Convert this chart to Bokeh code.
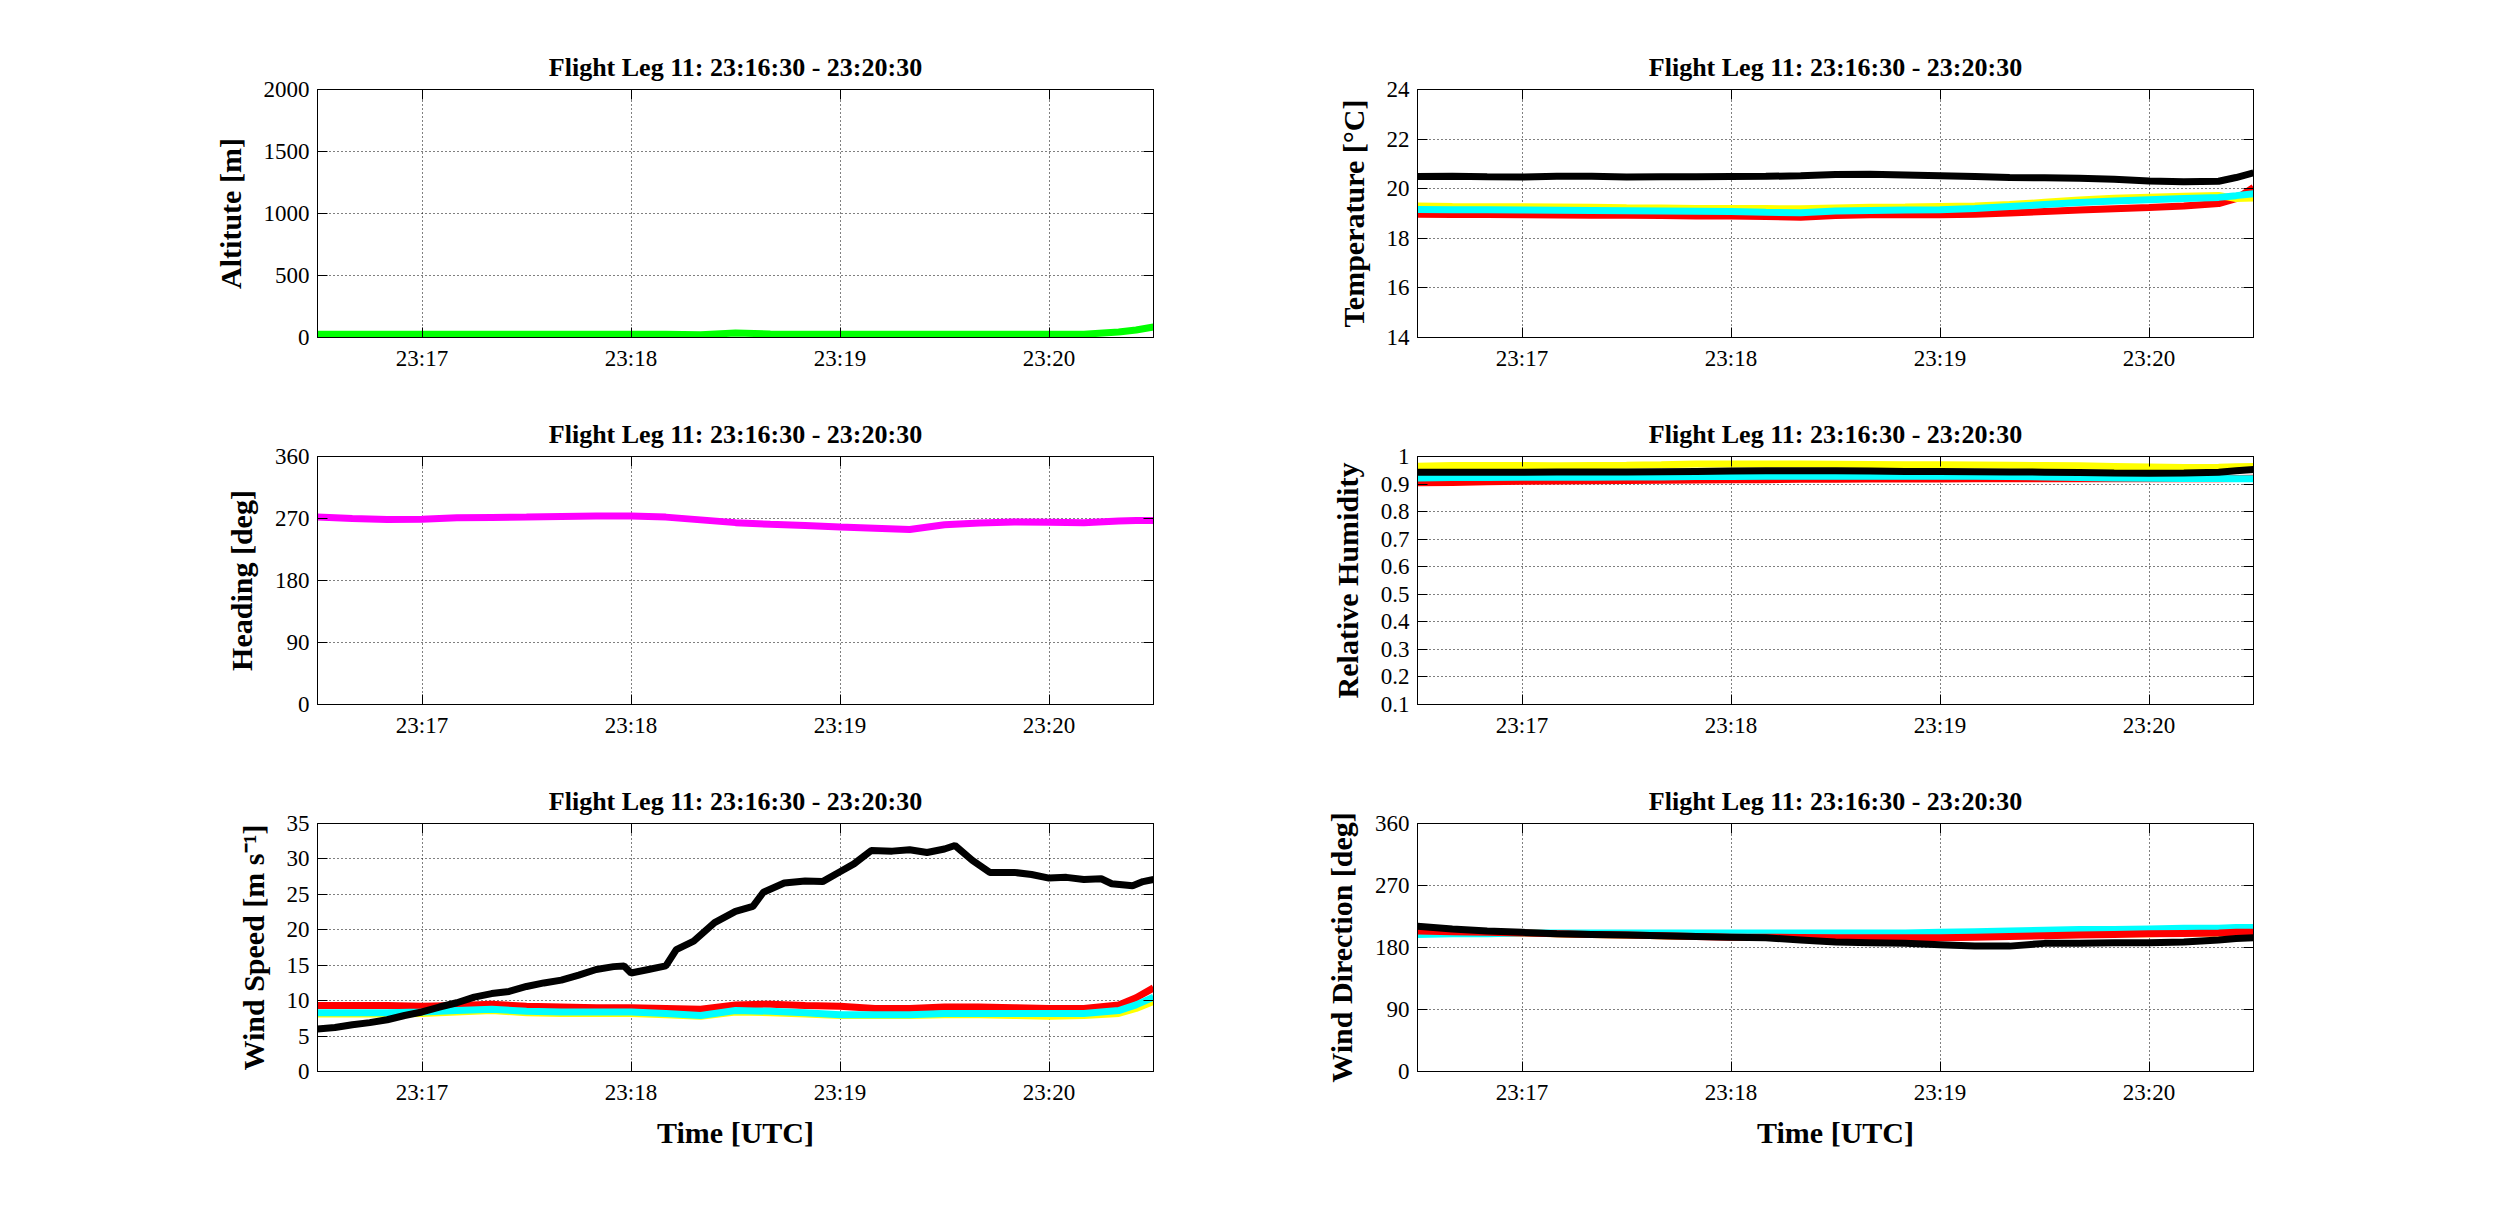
from datetime import datetime, timedelta
from bokeh.plotting import figure
from bokeh.models import (Range1d, FixedTicker, DatetimeTickFormatter, DatetimeAxis,
                          LinearAxis, NumeralTickFormatter, CustomLabelingPolicy)
from bokeh.layouts import column, row
from bokeh.embed import file_html
from bokeh.resources import INLINE

FONT = "Liberation Serif"
TITLE = "Flight Leg 11: 23:16:30 - 23:20:30"

leg_start = datetime(2000, 1, 1, 23, 16, 30)
leg_end = datetime(2000, 1, 1, 23, 20, 30)
time_ticks = [datetime(2000, 1, 1, 23, m) for m in (17, 18, 19, 20)]

# sample times, seconds after 23:16:30
t_main = [0, 10, 20, 30, 40, 50, 60, 70, 80, 90, 100, 110, 120, 130, 140, 150,
          160, 170, 180, 190, 200, 210, 220, 230, 235, 240]
t_ws_black = [0, 5, 10, 15, 20, 25, 30, 35, 40, 45, 50, 55, 60, 65, 70, 75, 80, 85,
              88, 90, 95, 100, 103, 108, 114, 120, 125, 128, 134, 140, 145, 150, 154,
              159, 165, 170, 175, 180, 183, 188, 193, 200, 205, 210, 215, 220, 225,
              228, 234, 237, 240]

# altitude [m]
altitude = [27, 27, 27, 27, 27, 27, 27, 27, 27, 27, 26, 22, 36, 28, 27, 27, 27, 27,
            27, 27, 27, 27, 27, 45, 60, 85]
# heading [deg]
heading = [272, 270, 268.5, 269, 271, 271.5, 272, 273, 273.5, 273.5, 272, 268, 264,
           261.5, 260, 257.5, 256, 254, 261, 263.5, 265, 264.5, 264, 266.5, 267, 267]

# wind speed [m/s]
ws_black = [6.0, 6.2, 6.6, 6.9, 7.3, 7.9, 8.4, 9.1, 9.7, 10.5, 11.0, 11.3, 12.0, 12.5,
            12.9, 13.6, 14.4, 14.8, 14.9, 13.9, 14.4, 14.9, 17.2, 18.4, 21.0, 22.6,
            23.3, 25.3, 26.6, 26.9, 26.8, 28.2, 29.3, 31.2, 31.1, 31.3, 30.9, 31.4,
            31.9, 29.8, 28.1, 28.1, 27.8, 27.3, 27.4, 27.1, 27.2, 26.5, 26.2, 26.8, 27.1]
ws_red = [9.3, 9.3, 9.3, 9.2, 9.3, 9.5, 9.2, 9.1, 9.0, 9.0, 8.9, 8.8, 9.4, 9.5, 9.3,
          9.2, 8.9, 8.9, 9.1, 9.1, 9.0, 8.9, 8.9, 9.4, 10.4, 11.8]
ws_yellow = [8.1, 8.1, 8.1, 8.2, 8.4, 8.6, 8.3, 8.2, 8.2, 8.2, 8.0, 7.8, 8.4, 8.3, 8.1,
             7.9, 7.9, 7.9, 8.0, 8.0, 7.9, 7.8, 7.9, 8.2, 8.9, 9.9]
ws_cyan = [8.3, 8.3, 8.3, 8.4, 8.6, 8.8, 8.5, 8.4, 8.4, 8.4, 8.2, 7.9, 8.6, 8.5, 8.3,
           8.0, 8.0, 8.0, 8.2, 8.2, 8.2, 8.2, 8.2, 8.6, 9.4, 10.5]

# temperature [C]
temp_black = [20.49, 20.5, 20.48, 20.47, 20.5, 20.5, 20.47, 20.48, 20.48, 20.49, 20.5,
              20.52, 20.57, 20.58, 20.55, 20.52, 20.49, 20.45, 20.44, 20.42, 20.38,
              20.31, 20.28, 20.3, 20.45, 20.64]
temp_red = [18.97, 18.96, 18.96, 18.95, 18.94, 18.93, 18.93, 18.92, 18.9, 18.9, 18.88,
            18.85, 18.92, 18.95, 18.95, 18.95, 18.97, 19.02, 19.08, 19.14, 19.19,
            19.24, 19.3, 19.4, 19.6, 20.05]
temp_yellow = [19.3, 19.28, 19.27, 19.27, 19.26, 19.25, 19.23, 19.22, 19.2, 19.2, 19.2,
               19.19, 19.22, 19.25, 19.26, 19.28, 19.3, 19.36, 19.45, 19.54, 19.62,
               19.66, 19.7, 19.73, 19.6, 19.62]
temp_cyan = [19.16, 19.15, 19.15, 19.14, 19.13, 19.12, 19.11, 19.1, 19.09, 19.08, 19.05,
             19.03, 19.1, 19.12, 19.14, 19.15, 19.2, 19.28, 19.36, 19.44, 19.5, 19.55,
             19.6, 19.65, 19.72, 19.8]

# relative humidity
rh_black = [0.943, 0.943, 0.943, 0.943, 0.944, 0.944, 0.944, 0.945, 0.946, 0.947, 0.948,
            0.948, 0.948, 0.947, 0.946, 0.946, 0.945, 0.944, 0.943, 0.942, 0.940, 0.939,
            0.940, 0.943, 0.948, 0.953]
rh_red = [0.905, 0.906, 0.908, 0.910, 0.911, 0.912, 0.913, 0.914, 0.915, 0.916, 0.916,
          0.917, 0.917, 0.918, 0.918, 0.918, 0.919, 0.919, 0.919, 0.919, 0.919, 0.919,
          0.919, 0.919, 0.920, 0.921]
rh_yellow = [0.965, 0.967, 0.967, 0.967, 0.966, 0.967, 0.968, 0.970, 0.973, 0.973, 0.973,
             0.973, 0.972, 0.971, 0.970, 0.970, 0.969, 0.968, 0.967, 0.966, 0.964, 0.962,
             0.960, 0.961, 0.963, 0.964]
rh_cyan = [0.922, 0.924, 0.924, 0.925, 0.925, 0.925, 0.926, 0.926, 0.927, 0.927, 0.928,
           0.928, 0.928, 0.928, 0.928, 0.928, 0.928, 0.927, 0.926, 0.924, 0.922, 0.921,
           0.920, 0.920, 0.919, 0.919]

# wind direction [deg]
wd_black = [211, 207, 204, 202, 200, 199, 198, 197, 196, 195, 194, 191, 188, 187, 186,
            184, 182, 182, 186, 186, 187, 187, 188, 191, 193, 194]
wd_red = [204, 203, 202, 201, 200, 199, 198, 197, 196, 195, 195, 194.5, 194, 194, 194,
          194, 195, 196, 197, 198, 199, 200, 200.5, 201, 202, 202]
wd_yellow = [204, 203, 202, 201, 200, 199, 198, 197, 196, 196, 195, 195, 195, 195, 195,
             195, 196, 197, 198, 199, 200, 200, 201, 201, 202, 202]
wd_cyan = [199, 200, 200, 201, 201, 201, 201, 201, 201, 201, 201, 201, 201, 201, 201,
           202, 203, 204, 205, 206, 206, 207, 208, 208, 209, 209]

alt_ticks = [0, 500, 1000, 1500, 2000]
hdg_ticks = [0, 90, 180, 270, 360]
ws_ticks = [0, 5, 10, 15, 20, 25, 30, 35]
temp_ticks = [14, 16, 18, 20, 22, 24]
rh_ticks = [0.1, 0.2, 0.3, 0.4, 0.5, 0.6, 0.7, 0.8, 0.9, 1.0]
wd_ticks = [0, 90, 180, 270, 360]


def times(secs):
    return [leg_start + timedelta(seconds=s) for s in secs]


def ms(dt):
    return (dt - datetime(1970, 1, 1)).total_seconds() * 1000.0


fmt = DatetimeTickFormatter(seconds="%H:%M", minsec="%H:%M", minutes="%H:%M",
                            hourmin="%H:%M", hours="%H:%M")

# top/right axes only carry the inward tick marks, no labels
no_labels = CustomLabelingPolicy(code="""
for (const i of indices) { indices.unset(i) }
return indices
""")


def style_axis(ax, ticker, labels=True):
    ax.ticker = ticker
    ax.major_tick_in = 10
    ax.major_tick_out = 0
    ax.minor_tick_line_color = None
    ax.axis_line_color = "black"
    ax.major_tick_line_color = "black"
    ax.major_label_text_font = FONT
    ax.major_label_text_color = "black"
    if labels:
        ax.major_label_text_font_size = "23px"
        ax.major_label_standoff = 8
    else:
        ax.major_label_text_font_size = "1px"
        ax.major_label_standoff = 0
        ax.major_label_policy = no_labels


def make_fig(ylabel, ylo, yhi, yticks, left, right, top, bottom, height, xlabel=None):
    p = figure(width=1242, height=height, x_axis_type="datetime",
               x_range=Range1d(leg_start, leg_end), y_range=Range1d(ylo, yhi),
               output_backend="svg", toolbar_location=None, tools="",
               min_border_left=left, min_border_right=right,
               min_border_top=top, min_border_bottom=bottom)
    p.title.text = TITLE
    p.title.align = "center"
    p.title.text_font = FONT
    p.title.text_font_size = "26px"
    p.title.text_font_style = "bold"
    p.title.text_color = "black"
    p.title.standoff = 8
    p.outline_line_color = "black"
    p.outline_line_alpha = 1

    xt = FixedTicker(ticks=[ms(t) for t in time_ticks])
    yt = FixedTicker(ticks=yticks)

    xa = p.below[0]
    style_axis(xa, xt)
    xa.formatter = fmt
    ya = p.left[0]
    style_axis(ya, yt)
    ya.formatter = NumeralTickFormatter(format="0.[0]")
    ya.axis_label = ylabel
    ya.axis_label_text_font = FONT
    ya.axis_label_text_font_size = "30px"
    ya.axis_label_text_font_style = "bold"
    ya.axis_label_text_color = "black"
    ya.axis_label_standoff = 14
    if xlabel:
        xa.axis_label = xlabel
        xa.axis_label_text_font = FONT
        xa.axis_label_text_font_size = "30px"
        xa.axis_label_text_font_style = "bold"
        xa.axis_label_text_color = "black"
        xa.axis_label_standoff = 8

    top_ax = DatetimeAxis(formatter=fmt)
    style_axis(top_ax, xt, labels=False)
    p.add_layout(top_ax, "above")
    right_ax = LinearAxis()
    style_axis(right_ax, yt, labels=False)
    p.add_layout(right_ax, "right")

    for g in (p.xgrid, p.ygrid):
        g.grid_line_color = "black"
        g.grid_line_dash = "1 3"
        g.grid_line_width = 1
    p.xgrid.ticker = xt
    p.ygrid.ticker = yt
    return p


LW = 7
# left column
p1 = make_fig("Altitute [m]", 0, 2000, alt_ticks, 317, 89, 89, 75, 412)
p1.line(times(t_main), altitude, color="#00ff00", line_width=LW)

p2 = make_fig("Heading [deg]", 0, 360, hdg_ticks, 317, 89, 44, 75, 367)
p2.line(times(t_main), heading, color="#ff00ff", line_width=LW)

p3 = make_fig("Wind Speed [m s\u207b\u00b9]", 0, 35, ws_ticks, 317, 89, 44, 128, 420,
              xlabel="Time [UTC]")
p3.line(times(t_main), ws_red, color="#ff0000", line_width=LW)
p3.line(times(t_main), ws_yellow, color="#ffff00", line_width=LW)
p3.line(times(t_main), ws_cyan, color="#00ffff", line_width=LW)
p3.line(times(t_ws_black), ws_black, color="black", line_width=LW)

# right column
p4 = make_fig("Temperature [\u00b0C]", 14, 24, temp_ticks, 175, 231, 89, 75, 412)
p4.line(times(t_main), temp_red, color="#ff0000", line_width=LW)
p4.line(times(t_main), temp_yellow, color="#ffff00", line_width=LW)
p4.line(times(t_main), temp_cyan, color="#00ffff", line_width=LW)
p4.line(times(t_main), temp_black, color="black", line_width=LW)

p5 = make_fig("Relative Humidity", 0.1, 1.0, rh_ticks, 175, 231, 44, 75, 367)
p5.line(times(t_main), rh_red, color="#ff0000", line_width=LW)
p5.line(times(t_main), rh_yellow, color="#ffff00", line_width=LW)
p5.line(times(t_main), rh_cyan, color="#00ffff", line_width=LW)
p5.line(times(t_main), rh_black, color="black", line_width=LW)

p6 = make_fig("Wind Direction [deg]", 0, 360, wd_ticks, 175, 231, 44, 128, 420,
              xlabel="Time [UTC]")
p6.line(times(t_main), wd_yellow, color="#ffff00", line_width=LW)
p6.line(times(t_main), wd_cyan, color="#00ffff", line_width=LW)
p6.line(times(t_main), wd_red, color="#ff0000", line_width=LW)
p6.line(times(t_main), wd_black, color="black", line_width=LW)

layout = column(row(p1, p4), row(p2, p5), row(p3, p6))

open("out.html", "w").write(file_html(layout, INLINE))
